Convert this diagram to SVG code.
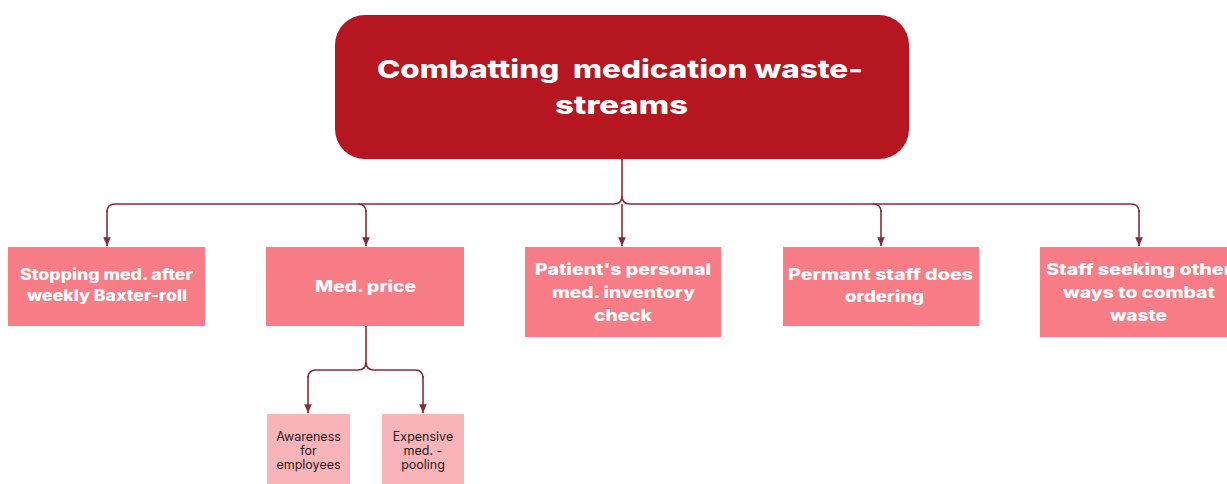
<svg xmlns="http://www.w3.org/2000/svg" width="1227" height="484" viewBox="0 0 1227 484">
  <defs>
    <marker id="arrow" viewBox="0 0 10 10" refX="9" refY="5" markerWidth="6" markerHeight="6" orient="auto">
      <path d="M0,1 L9,5 L0,9 z" fill="#8a2b3b"/>
    </marker>
    <style>
      .root { fill: #b5161f; }
      .node { fill: #f87d86; }
      .sub { fill: #f9b4ba; }
      .edge { fill: none; stroke: #8a2b3b; stroke-width: 1.6; marker-end: url(#arrow); }
      .trunk { fill: none; stroke: #8a2b3b; stroke-width: 1.6; }
      .title { font-family: Inter, "Liberation Sans", sans-serif; font-weight: 800; font-size: 25px; fill: #ffffff; }
      .label { font-family: Inter, "Liberation Sans", sans-serif; font-weight: 800; font-size: 15.5px; fill: #ffffff; }
      .small { font-family: Inter, "Liberation Sans", sans-serif; font-weight: 400; font-size: 12.5px; fill: #2a1a1c; text-anchor: middle; }
    </style>
  </defs>
  <rect width="1227" height="484" fill="#ffffff"/>

  <!-- connectors -->
  <g id="connectors">
    <path class="trunk" d="M622,159 V196 Q622,204 614,204 H115 Q107,204 107,212"/>
    <path class="edge" d="M107,210 V246"/>
    <path class="trunk" d="M622,196 Q622,204 630,204 H1131 Q1139,204 1139,212"/>
    <path class="edge" d="M1139,210 V246"/>
    <path class="trunk" d="M358,204 Q366,204 366,212"/>
    <path class="edge" d="M366,210 V246"/>
    <path class="edge" d="M622,204 V246"/>
    <path class="trunk" d="M873,204 Q881,204 881,212"/>
    <path class="edge" d="M881,210 V246"/>
    <!-- branch below Med. price -->
    <path class="trunk" d="M366,326 V362 Q366,370 358,370 H316 Q308,370 308,378"/>
    <path class="edge" d="M308,376 V413"/>
    <path class="trunk" d="M366,362 Q366,370 374,370 H415 Q423,370 423,378"/>
    <path class="edge" d="M423,376 V413"/>
  </g>

  <g id="root">
    <rect class="root" x="335" y="15" width="574" height="144" rx="30"/>
    <text class="title" x="377" y="78" xml:space="preserve" textLength="486" lengthAdjust="spacingAndGlyphs">Combatting  medication waste-</text>
    <text class="title" x="555" y="114" textLength="133" lengthAdjust="spacingAndGlyphs">streams</text>
  </g>

  <g id="n-stopping">
    <rect class="node" x="8" y="247" width="197" height="79"/>
    <text class="label" x="20" y="280" textLength="173" lengthAdjust="spacingAndGlyphs">Stopping med. after</text>
    <text class="label" x="27" y="301" textLength="160" lengthAdjust="spacingAndGlyphs">weekly Baxter-roll</text>
  </g>

  <g id="n-price">
    <rect class="node" x="266" y="247" width="198" height="79"/>
    <text class="label" x="315" y="292" textLength="101" lengthAdjust="spacingAndGlyphs">Med. price</text>
  </g>

  <g id="n-inventory">
    <rect class="node" x="525" y="247" width="196" height="90"/>
    <text class="label" x="535" y="275" textLength="176" lengthAdjust="spacingAndGlyphs">Patient's personal</text>
    <text class="label" x="552" y="298" textLength="143" lengthAdjust="spacingAndGlyphs">med. inventory</text>
    <text class="label" x="594" y="321" textLength="58" lengthAdjust="spacingAndGlyphs">check</text>
  </g>

  <g id="n-ordering">
    <rect class="node" x="783" y="247" width="196" height="79"/>
    <text class="label" x="788" y="280" textLength="185" lengthAdjust="spacingAndGlyphs">Permant staff does</text>
    <text class="label" x="845" y="302" textLength="79" lengthAdjust="spacingAndGlyphs">ordering</text>
  </g>

  <g id="n-seeking">
    <rect class="node" x="1040" y="247" width="197" height="90"/>
    <text class="label" x="1046" y="275" textLength="186" lengthAdjust="spacingAndGlyphs">Staff seeking other</text>
    <text class="label" x="1063" y="298" textLength="152" lengthAdjust="spacingAndGlyphs">ways to combat</text>
    <text class="label" x="1110" y="321" textLength="57" lengthAdjust="spacingAndGlyphs">waste</text>
  </g>

  <g id="n-awareness">
    <rect class="sub" x="267" y="414" width="83" height="76"/>
    <text class="small" x="308.5" y="441">Awareness</text>
    <text class="small" x="308.5" y="455">for</text>
    <text class="small" x="308.5" y="469">employees</text>
  </g>

  <g id="n-pooling">
    <rect class="sub" x="382" y="414" width="82" height="76"/>
    <text class="small" x="423" y="441">Expensive</text>
    <text class="small" x="423" y="455">med. -</text>
    <text class="small" x="423" y="469">pooling</text>
  </g>
</svg>
